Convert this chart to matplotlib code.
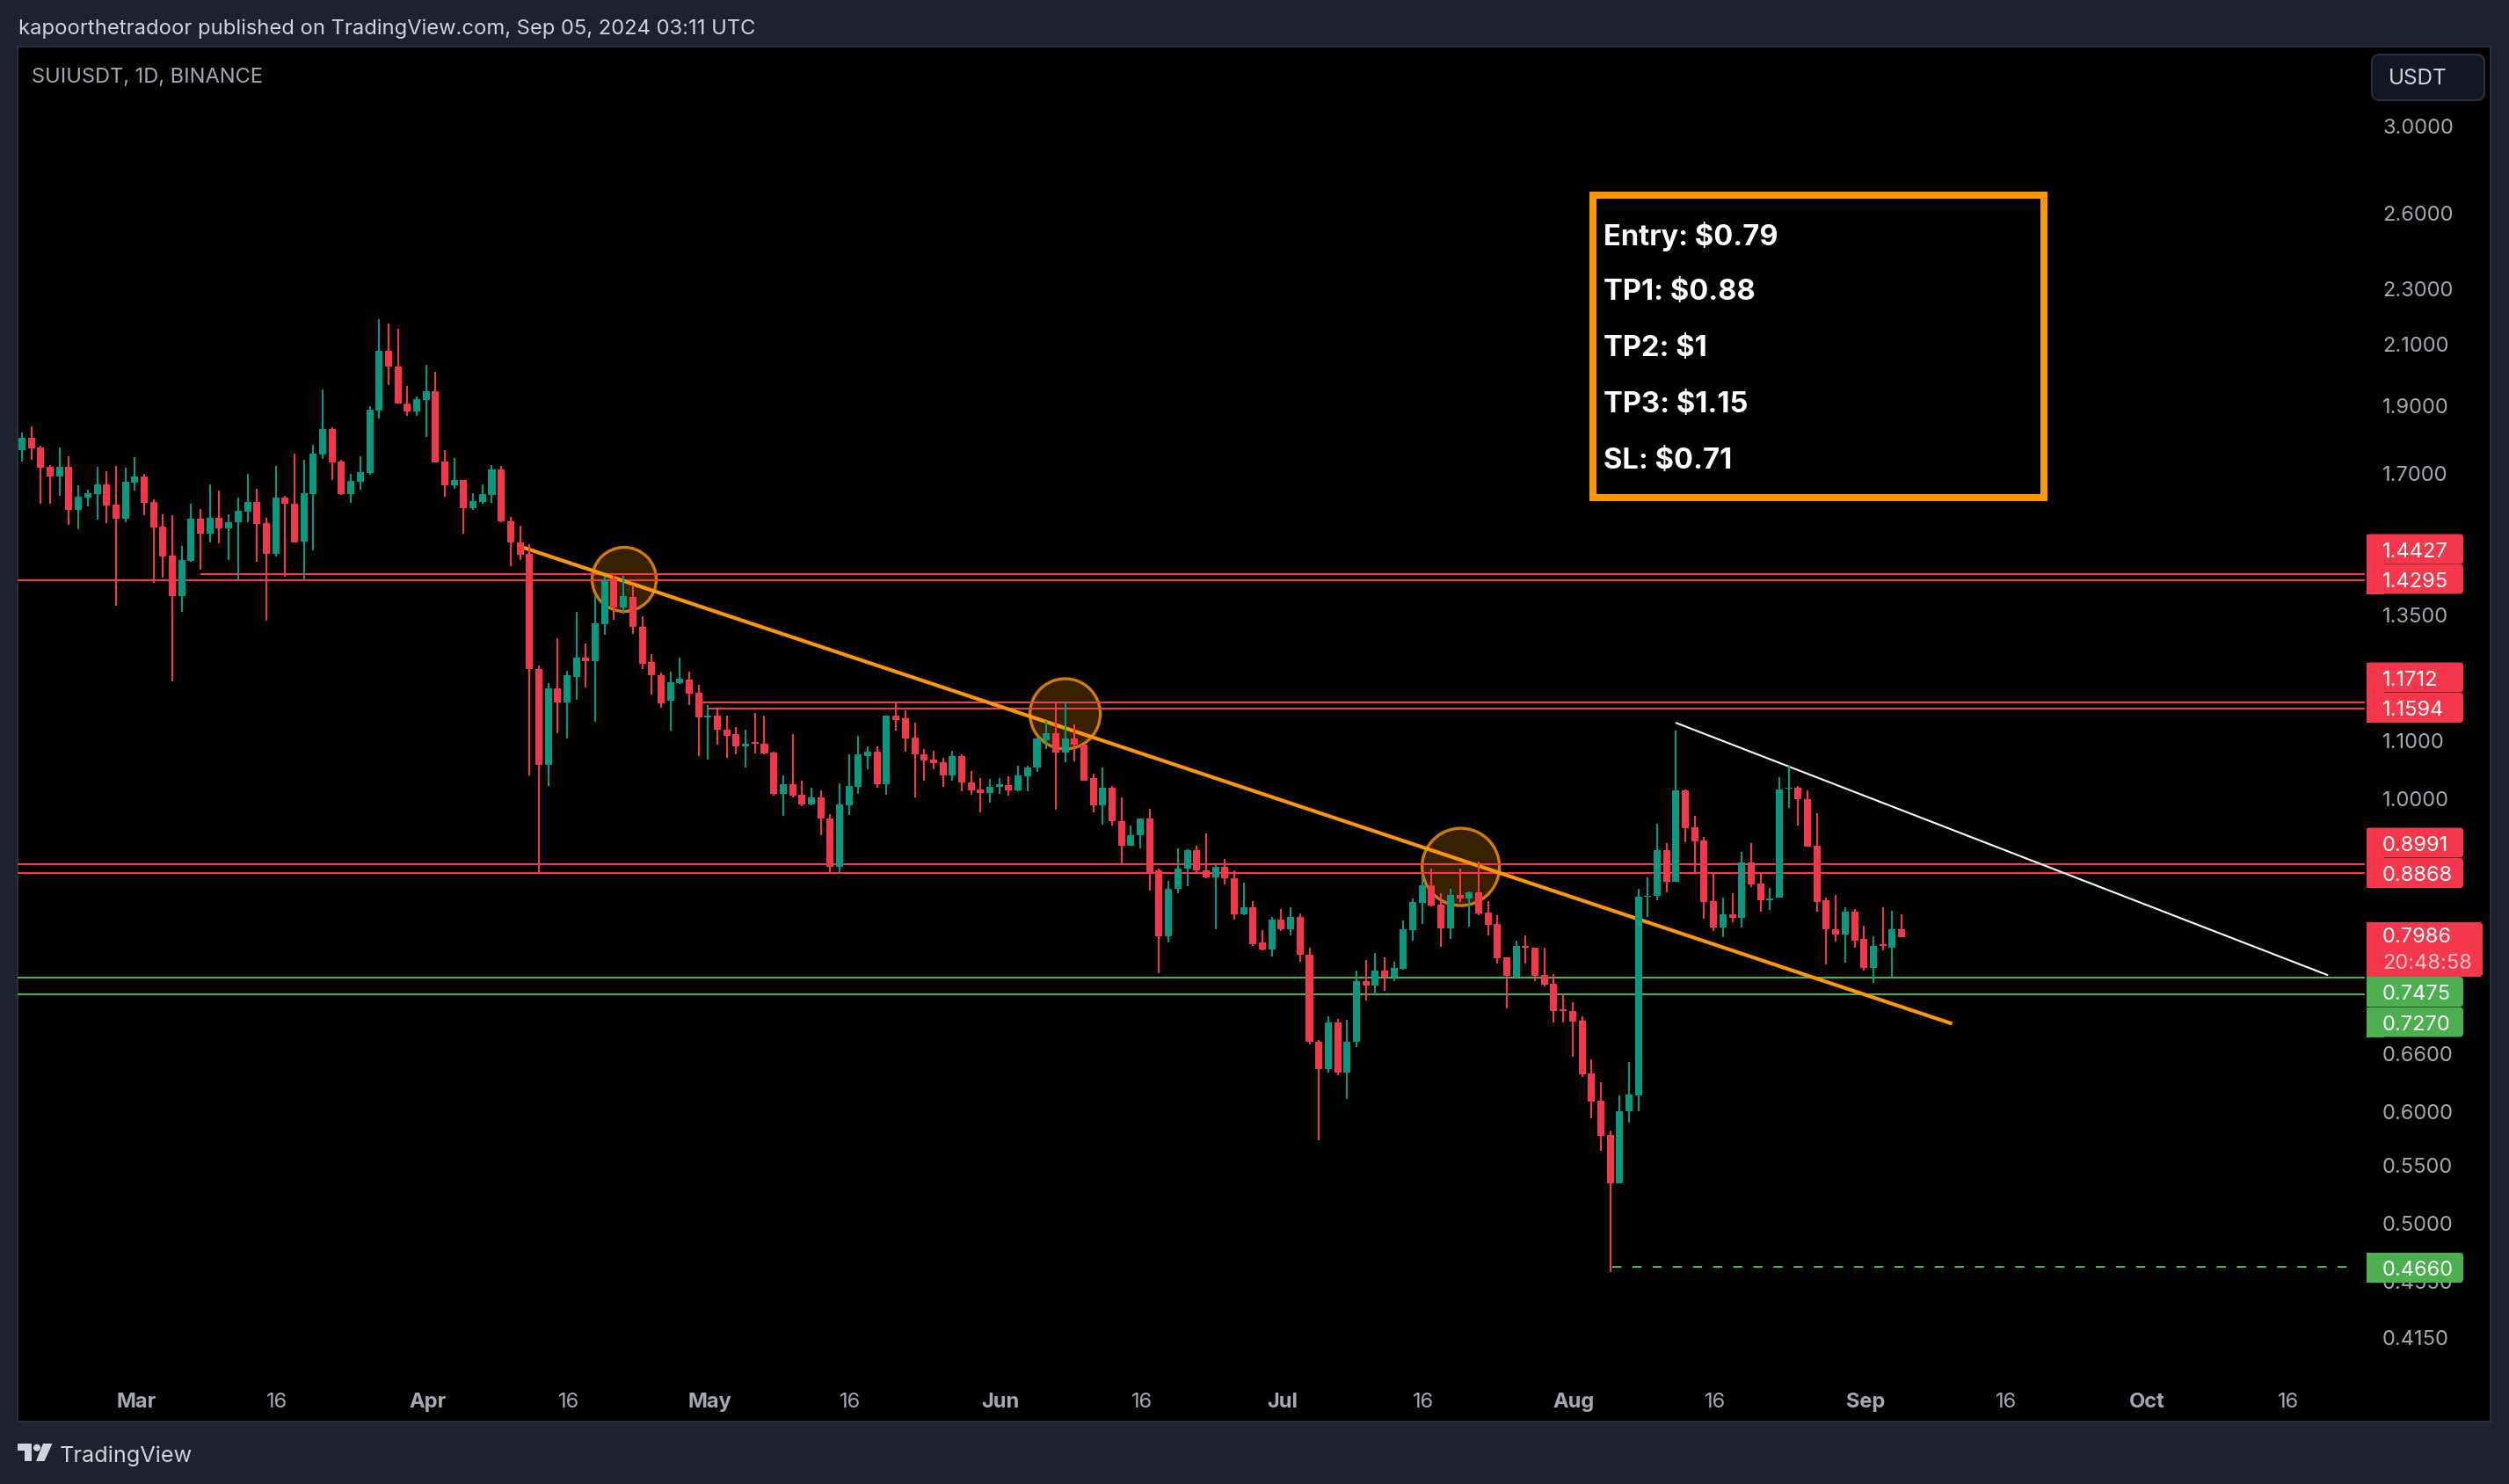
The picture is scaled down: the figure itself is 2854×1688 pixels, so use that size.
import numpy as np
import pandas as pd
import matplotlib
matplotlib.use("Agg")
import matplotlib.pyplot as plt
from matplotlib.patches import Rectangle, FancyBboxPatch, Ellipse, Polygon, Circle
from matplotlib.ticker import NullLocator
from matplotlib.transforms import Affine2D, IdentityTransform

plt.rcParams['font.family'] = ['Inter', 'DejaVu Sans']

WIDTH, HEIGHT = 2854, 1688
START = pd.Timestamp('2024-02-18')

opens = [
    1.768, 1.804, 1.775, 1.719, 1.693, 1.719, 1.603, 1.636, 1.645, 1.672,
    1.616, 1.581, 1.676, 1.693, 1.623, 1.559, 1.487, 1.393, 1.474, 1.580,
    1.543, 1.583, 1.555, 1.571, 1.598, 1.623, 1.568, 1.491, 1.635, 1.620,
    1.522, 1.645, 1.754, 1.830, 1.735, 1.645, 1.678, 1.702, 1.886, 2.079,
    2.026, 1.908, 1.881, 1.917, 1.944, 1.735, 1.669, 1.684, 1.607, 1.624,
    1.643, 1.712, 1.574, 1.521, 1.491, 1.236, 1.058, 1.198, 1.170, 1.221,
    1.259, 1.253, 1.331, 1.433, 1.367, 1.391, 1.325, 1.251, 1.224, 1.174,
    1.208, 1.215, 1.190, 1.143, 1.146, 1.120, 1.111, 1.089, 1.097, 1.094,
    1.079, 1.009, 1.025, 1.007, 0.991, 1.003, 0.969, 0.895, 0.990, 1.020,
    1.073, 1.081, 1.025, 1.146, 1.140, 1.105, 1.076, 1.067, 1.062, 1.039,
    1.073, 1.028, 1.016, 1.010, 1.020, 1.023, 1.014, 1.038, 1.052, 1.101,
    1.113, 1.079, 1.103, 1.093, 1.034, 0.990, 1.018, 0.965, 0.927, 0.943,
    0.969, 0.890, 0.799, 0.863, 0.893, 0.920, 0.890, 0.880, 0.895, 0.879,
    0.829, 0.838, 0.791, 0.782, 0.821, 0.808, 0.825, 0.776, 0.673, 0.644,
    0.694, 0.640, 0.673, 0.743, 0.737, 0.756, 0.748, 0.758, 0.807, 0.844,
    0.868, 0.841, 0.810, 0.855, 0.850, 0.859, 0.831, 0.815, 0.772, 0.748,
    0.787, 0.785, 0.750, 0.740, 0.709, 0.707, 0.696, 0.639, 0.611, 0.578,
    0.534, 0.601, 0.616, 0.852, 0.854, 0.920, 0.873, 1.014, 0.955, 0.935,
    0.846, 0.811, 0.829, 0.824, 0.901, 0.871, 0.848, 0.851, 1.017, 1.018,
    0.999, 0.926, 0.848, 0.809, 0.801, 0.832, 0.796, 0.759, 0.789, 0.785, 0.809,
]
highs = [
    1.818, 1.838, 1.780, 1.725, 1.775, 1.749, 1.668, 1.657, 1.719, 1.707,
    1.722, 1.717, 1.747, 1.701, 1.630, 1.592, 1.588, 1.511, 1.620, 1.604,
    1.672, 1.654, 1.592, 1.635, 1.699, 1.660, 1.583, 1.722, 1.640, 1.756,
    1.739, 1.782, 1.952, 1.835, 1.739, 1.699, 1.749, 1.899, 2.188, 2.173,
    2.154, 1.961, 1.930, 2.030, 2.009, 1.767, 1.744, 1.684, 1.647, 1.670,
    1.725, 1.722, 1.585, 1.561, 1.515, 1.244, 1.208, 1.299, 1.232, 1.357,
    1.288, 1.392, 1.437, 1.440, 1.440, 1.419, 1.348, 1.266, 1.230, 1.231,
    1.260, 1.231, 1.205, 1.166, 1.158, 1.146, 1.124, 1.120, 1.151, 1.145,
    1.081, 1.039, 1.111, 1.031, 1.019, 1.014, 0.975, 1.026, 1.075, 1.108,
    1.089, 1.089, 1.146, 1.172, 1.155, 1.133, 1.085, 1.082, 1.070, 1.082,
    1.075, 1.047, 1.035, 1.033, 1.035, 1.038, 1.055, 1.055, 1.105, 1.136,
    1.171, 1.172, 1.129, 1.093, 1.042, 1.053, 1.021, 1.003, 0.958, 0.969,
    0.984, 0.893, 0.875, 0.923, 0.921, 0.926, 0.945, 0.898, 0.907, 0.890,
    0.872, 0.846, 0.807, 0.825, 0.836, 0.838, 0.830, 0.784, 0.675, 0.701,
    0.698, 0.697, 0.756, 0.769, 0.778, 0.772, 0.767, 0.820, 0.850, 0.884,
    0.892, 0.857, 0.863, 0.892, 0.860, 0.903, 0.847, 0.827, 0.772, 0.794,
    0.800, 0.785, 0.785, 0.751, 0.727, 0.718, 0.701, 0.654, 0.630, 0.582,
    0.616, 0.651, 0.863, 0.880, 0.960, 0.931, 1.118, 1.016, 0.973, 0.940,
    0.885, 0.851, 0.858, 0.917, 0.930, 0.885, 0.865, 1.036, 1.057, 1.021,
    1.014, 0.977, 0.851, 0.855, 0.838, 0.836, 0.813, 0.799, 0.838, 0.833, 0.829,
]
lows = [
    1.735, 1.739, 1.619, 1.619, 1.640, 1.565, 1.552, 1.613, 1.578, 1.568,
    1.370, 1.571, 1.654, 1.588, 1.422, 1.435, 1.212, 1.358, 1.472, 1.453,
    1.520, 1.517, 1.477, 1.431, 1.571, 1.472, 1.338, 1.485, 1.437, 1.519,
    1.431, 1.500, 1.743, 1.684, 1.642, 1.621, 1.657, 1.697, 1.860, 1.964,
    1.906, 1.870, 1.870, 1.805, 1.731, 1.637, 1.659, 1.541, 1.603, 1.619,
    1.621, 1.571, 1.462, 1.477, 1.039, 0.885, 1.022, 1.113, 1.103, 1.175,
    1.199, 1.135, 1.308, 1.340, 1.354, 1.310, 1.237, 1.185, 1.161, 1.118,
    1.206, 1.166, 1.072, 1.066, 1.092, 1.069, 1.076, 1.053, 1.077, 1.075,
    1.005, 0.973, 1.002, 0.988, 0.990, 0.942, 0.886, 0.885, 0.974, 1.009,
    1.050, 1.018, 1.007, 1.118, 1.081, 1.003, 1.030, 1.050, 1.020, 1.030,
    1.013, 1.007, 0.979, 0.994, 1.009, 1.006, 1.013, 1.012, 1.045, 1.085,
    0.982, 1.062, 1.064, 1.030, 0.979, 0.959, 0.958, 0.900, 0.926, 0.923,
    0.861, 0.752, 0.791, 0.858, 0.867, 0.888, 0.878, 0.808, 0.870, 0.821,
    0.827, 0.787, 0.781, 0.773, 0.806, 0.800, 0.767, 0.670, 0.573, 0.640,
    0.637, 0.613, 0.667, 0.720, 0.727, 0.731, 0.743, 0.757, 0.793, 0.815,
    0.839, 0.786, 0.796, 0.845, 0.812, 0.827, 0.800, 0.765, 0.711, 0.747,
    0.764, 0.743, 0.736, 0.694, 0.694, 0.657, 0.635, 0.594, 0.563, 0.462,
    0.534, 0.590, 0.601, 0.825, 0.848, 0.859, 0.873, 0.932, 0.887, 0.822,
    0.806, 0.798, 0.818, 0.811, 0.866, 0.832, 0.834, 0.851, 0.986, 0.957,
    0.925, 0.832, 0.763, 0.792, 0.766, 0.785, 0.756, 0.741, 0.781, 0.748, 0.798,
]
closes = [
    1.804, 1.772, 1.718, 1.693, 1.719, 1.603, 1.637, 1.647, 1.672, 1.615,
    1.581, 1.677, 1.693, 1.621, 1.558, 1.485, 1.393, 1.476, 1.580, 1.543,
    1.583, 1.555, 1.572, 1.600, 1.623, 1.566, 1.491, 1.635, 1.620, 1.521,
    1.647, 1.756, 1.830, 1.733, 1.645, 1.680, 1.704, 1.887, 2.079, 2.025,
    1.906, 1.881, 1.920, 1.944, 1.733, 1.669, 1.684, 1.607, 1.625, 1.644,
    1.712, 1.574, 1.520, 1.489, 1.236, 1.058, 1.198, 1.170, 1.223, 1.259,
    1.252, 1.332, 1.429, 1.367, 1.393, 1.324, 1.247, 1.223, 1.169, 1.210,
    1.217, 1.188, 1.143, 1.146, 1.119, 1.109, 1.089, 1.095, 1.094, 1.077,
    1.009, 1.025, 1.006, 0.991, 1.003, 0.968, 0.895, 0.991, 1.022, 1.075,
    1.081, 1.025, 1.146, 1.138, 1.103, 1.075, 1.065, 1.061, 1.039, 1.073,
    1.027, 1.014, 1.010, 1.020, 1.025, 1.014, 1.039, 1.053, 1.103, 1.113,
    1.079, 1.103, 1.092, 1.031, 0.990, 1.018, 0.964, 0.927, 0.943, 0.969,
    0.888, 0.799, 0.864, 0.893, 0.920, 0.890, 0.880, 0.895, 0.878, 0.829,
    0.838, 0.789, 0.782, 0.821, 0.808, 0.825, 0.775, 0.673, 0.644, 0.694,
    0.640, 0.673, 0.743, 0.737, 0.756, 0.748, 0.759, 0.808, 0.845, 0.868,
    0.840, 0.810, 0.855, 0.850, 0.859, 0.830, 0.814, 0.771, 0.749, 0.787,
    0.784, 0.749, 0.739, 0.707, 0.707, 0.695, 0.638, 0.610, 0.577, 0.534,
    0.601, 0.617, 0.853, 0.854, 0.920, 0.873, 1.014, 0.954, 0.933, 0.845,
    0.811, 0.829, 0.824, 0.901, 0.870, 0.848, 0.850, 1.016, 1.019, 0.999,
    0.925, 0.845, 0.809, 0.801, 0.832, 0.794, 0.759, 0.787, 0.787, 0.809, 0.7986,
]

price_ticks = [3.0, 2.6, 2.3, 2.1, 1.9, 1.7, 1.35, 1.1, 1.0, 0.66, 0.6, 0.55, 0.5, 0.455, 0.415]
date_ticks = ['2024-03-01', '2024-03-16', '2024-04-01', '2024-04-16', '2024-05-01', '2024-05-16',
              '2024-06-01', '2024-06-16', '2024-07-01', '2024-07-16', '2024-08-01', '2024-08-16',
              '2024-09-01', '2024-09-16', '2024-10-01', '2024-10-16']
date_labels = ['Mar', '16', 'Apr', '16', 'May', '16', 'Jun', '16', 'Jul', '16', 'Aug', '16',
               'Sep', '16', 'Oct', '16']

# drawn levels: price, first bar it starts from (None = left edge)
red_levels = [1.4427, 1.4295, 1.1712, 1.1594, 0.8991, 0.8868]
red_starts = [19.0, None, 72.4, 73.1, None, None]
green_levels = [0.7475, 0.7270]
low_level = 0.4660
low_start = 169.2

orange_x = [53.4, 205.2]
orange_y = [1.507, 0.6936]
white_x = [176.05, 245.3]
white_y = [1.132, 0.7504]

circle_x = [64.08, 111.0, 153.1]
circle_y = [1.431, 1.149, 0.895]

notes = ['Entry: $0.79', 'TP1: $0.88', 'TP2: $1', 'TP3: $1.15', 'SL: $0.71']

RED = '#f5374b'
TEAL = '#089981'
GREEN = '#4caf50'
ORANGE = '#ff9800'
FRAME = '#1e222d'
BORDER = '#2a2e39'
AXIS_TEXT = '#a5a8b0'
X_LEFT, X_RIGHT = -0.468, 262.68
LINE_END = 249.3

fig = plt.figure(figsize=(WIDTH / 100, HEIGHT / 100), dpi=100, facecolor=FRAME)
# chrome is placed in image pixels, y going down
px = Affine2D().scale(1, -1).translate(0, HEIGHT)

left, top, right, bottom = 20, 53, 2833, 1617
ax = fig.add_axes([left / WIDTH, 1 - bottom / HEIGHT, (right - left) / WIDTH, (bottom - top) / HEIGHT])
ax.set_facecolor('black')
ax.set_yscale('log')
ax.set_xlim(X_LEFT, X_RIGHT)
ax.set_ylim(0.3620, 3.414)
for s in ax.spines.values():
    s.set_color(BORDER)
    s.set_linewidth(1.5)

x = np.arange(len(opens))
opens = np.array(opens)
closes = np.array(closes)
up = closes >= opens
colors = np.where(up, TEAL, RED)
body_low = np.minimum(opens, closes)
body_high = np.maximum(opens, closes)
ax.vlines(x, lows, highs, colors=colors, linewidth=1.5, zorder=5)
ax.bar(x, body_high - body_low, bottom=body_low, width=0.75, color=colors, linewidth=0, zorder=6)

for level, start in zip(red_levels, red_starts):
    x0 = X_LEFT if start is None else start
    ax.plot([x0, LINE_END], [level, level], color=RED, lw=1.5, solid_capstyle='butt', zorder=3)
for level in green_levels:
    ax.plot([X_LEFT, LINE_END], [level, level], color=GREEN, lw=1.5, solid_capstyle='butt', zorder=3)
ax.plot([low_start, 248.3], [low_level, low_level], color=GREEN, lw=1.5, dashes=(5, 6),
        dash_capstyle='butt', zorder=3)

ax.plot(orange_x, orange_y, color=ORANGE, lw=3, zorder=4)
ax.plot(white_x, white_y, color='white', lw=1.5, zorder=4)

for cx, cy, d in zip(circle_x, circle_y, [73, 80, 88]):
    center = ax.transData.transform((cx, cy))
    ax.add_patch(Ellipse(center, d, d, transform=IdentityTransform(), facecolor=(1, 0.596, 0, 0.22),
                         edgecolor=(1, 0.596, 0, 0.8), linewidth=2.4, zorder=2))

ax.set_yticks(price_ticks)
ax.set_yticklabels([f'{p:.4f}' for p in price_ticks])
ax.yaxis.tick_right()
ax.yaxis.set_minor_locator(NullLocator())
ax.tick_params(axis='y', which='both', length=0, pad=-88.5, labelsize=17, labelcolor=AXIS_TEXT)

tick_pos = [(pd.Timestamp(d) - START).days + 0.15 for d in date_ticks]
ax.set_xticks(tick_pos)
ax.set_xticklabels(date_labels)
ax.tick_params(axis='x', length=0, pad=-24, labelsize=17, labelcolor=AXIS_TEXT)
for lab in ax.get_xticklabels():
    if lab.get_text() != '16':
        lab.set_fontweight('bold')

# entry / targets box
fig.add_artist(Rectangle((1812, 222), 513, 344, transform=px, fill=False, edgecolor=ORANGE,
                         linewidth=5.8, joinstyle='miter'))
for line, y in zip(notes, [269, 333, 397, 461, 525]):
    fig.text(1824, y, line, transform=px, color='white', fontsize=23.5, fontweight='bold', va='center')


def price_tag(text, yc, color, height=34, width=110, text_y=None):
    y0 = yc - height / 2
    fig.add_artist(FancyBboxPatch((2692, y0), width, height, boxstyle='round,pad=0,rounding_size=4',
                                  transform=px, facecolor=color, edgecolor='none'))
    fig.add_artist(Rectangle((2692, y0), 20, height, transform=px, facecolor=color, edgecolor='none'))
    fig.text(2710, (yc if text_y is None else text_y) + 3, text, transform=px, color='white',
             fontsize=17, va='center')


price_tag('1.4427', 624.5, RED)
price_tag('1.4295', 658.5, RED)
price_tag('1.1712', 770.5, RED)
price_tag('1.1594', 805, RED)
price_tag('0.8991', 958.5, RED)
price_tag('0.8868', 993, RED)
price_tag('0.7475', 1128, GREEN)
price_tag('0.7270', 1162.5, GREEN)
price_tag('0.4660', 1442, GREEN)
price_tag('0.7986', 1080, RED, height=62, width=132, text_y=1063)
fig.text(2710, 1096, '20:48:58', transform=px, color='#fbc3c8', fontsize=17, va='center')

# header, symbol and footer
fig.text(21, 33, 'kapoorthetradoor published on TradingView.com, Sep 05, 2024 03:11 UTC', transform=px,
         color='#d1d4dc', fontsize=17.1, va='center')
fig.text(36, 88, 'SUIUSDT, 1D, BINANCE', transform=px, color='#a5a8b0', fontsize=17, va='center')

fig.add_artist(FancyBboxPatch((2698, 62), 128, 52, boxstyle='round,pad=0,rounding_size=9', transform=px,
                              facecolor='#131722', edgecolor=BORDER, linewidth=1.5))
fig.text(2717, 89, 'USDT', transform=px, color='#d1d4dc', fontsize=17.5, va='center')

logo = '#d1d4dc'
fig.add_artist(Polygon([(20, 1642), (36, 1642), (36, 1662), (27.5, 1662), (27.5, 1650), (20, 1650)],
                       transform=px, facecolor=logo, edgecolor='none'))
fig.add_artist(Circle((42, 1646.7), 4, transform=px, facecolor=logo, edgecolor='none'))
fig.add_artist(Polygon([(49, 1642), (59.5, 1642), (50.5, 1662), (41, 1662)], transform=px,
                       facecolor=logo, edgecolor='none'))
fig.text(68, 1656, 'TradingView', transform=px, color=logo, fontsize=18.2, va='center')

fig.savefig('out.png', dpi=100, facecolor=FRAME)
